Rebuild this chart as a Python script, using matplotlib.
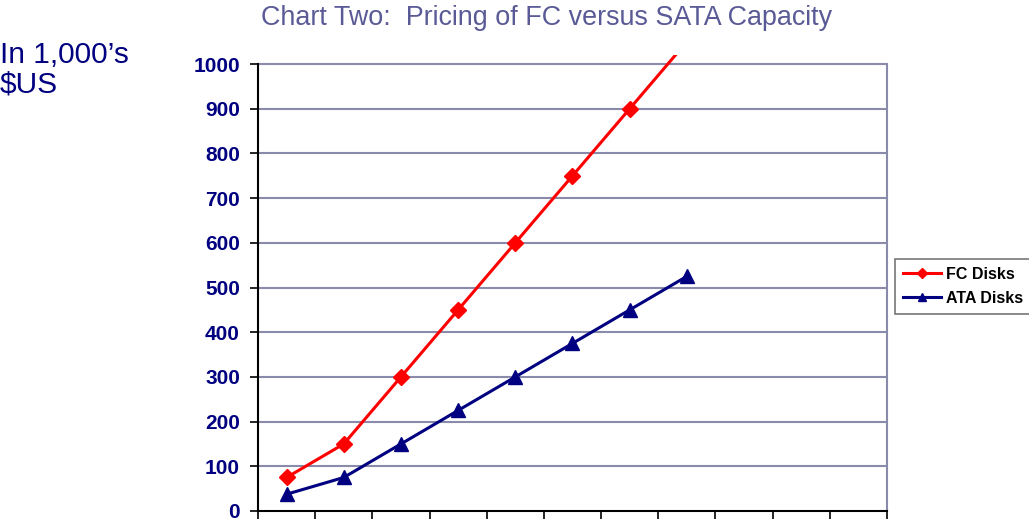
import matplotlib.pyplot as plt
import numpy as np

plt.rcParams['font.family'] = ['Liberation Sans', 'DejaVu Sans']

# 11 unlabeled category slots on the x axis, data in the first 8
n_slots = 11
fc_disks = [75, 150, 300, 450, 600, 750, 900, 1050]
ata_disks = [37.5, 75, 150, 225, 300, 375, 450, 525]
y_ticks = [0, 100, 200, 300, 400, 500, 600, 700, 800, 900, 1000]

navy = "#000080"
red = "#ff0000"
grid_col = "#8a8aaa"

fig = plt.figure(figsize=(10.29, 5.21), dpi=100)
ax = fig.add_axes([0.2507, 0.0192, 0.6113, 0.875])

x = np.arange(len(fc_disks)) + 0.5
ax.plot(x, fc_disks, color=red, lw=2.2, marker="D", markersize=8.5, label="FC Disks")
ax.plot(x, ata_disks, color=navy, lw=2.2, marker="^", markersize=10.5, label="ATA Disks")

ax.set_xlim(0, n_slots)
ax.set_ylim(0, 1020)
ax.set_xticks(np.arange(n_slots + 1))
ax.set_xticklabels([])
ax.set_yticks(y_ticks)
ax.set_yticklabels([str(v) for v in y_ticks], fontsize=15, fontweight="bold", color=navy)

for v in y_ticks[1:]:
    ax.axhline(v, color=grid_col, lw=1.5, zorder=0)

ax.spines["top"].set_visible(False)
ax.spines["left"].set_bounds(0, 1000)
ax.spines["right"].set_bounds(0, 1000)
ax.spines["right"].set_color(grid_col)
ax.spines["right"].set_linewidth(1.5)
ax.spines["left"].set_linewidth(1.5)
ax.spines["bottom"].set_linewidth(1.5)
ax.tick_params(axis="both", direction="out", length=6, width=1.2, pad=7)

leg = ax.legend(loc="center left", bbox_to_anchor=(1.0, 0.493), prop={"weight": "bold", "size": 11.5},
                frameon=True, fancybox=False, edgecolor="#555555", handlelength=2.4,
                handletextpad=0.3, borderpad=0.5, labelspacing=0.55, markerscale=0.6,
                borderaxespad=0.5)
leg.get_frame().set_linewidth(1.2)

fig.text(0.5315, 0.965, "Chart Two:  Pricing of FC versus SATA Capacity", ha="center", va="center",
         fontsize=19.4, color="#5a5a96")
fig.text(0.0, 0.866, "In 1,000\u2019s\n$US", ha="left", va="center", fontsize=21.5, color=navy,
         linespacing=1.1)

fig.savefig("out.png", dpi=100)
